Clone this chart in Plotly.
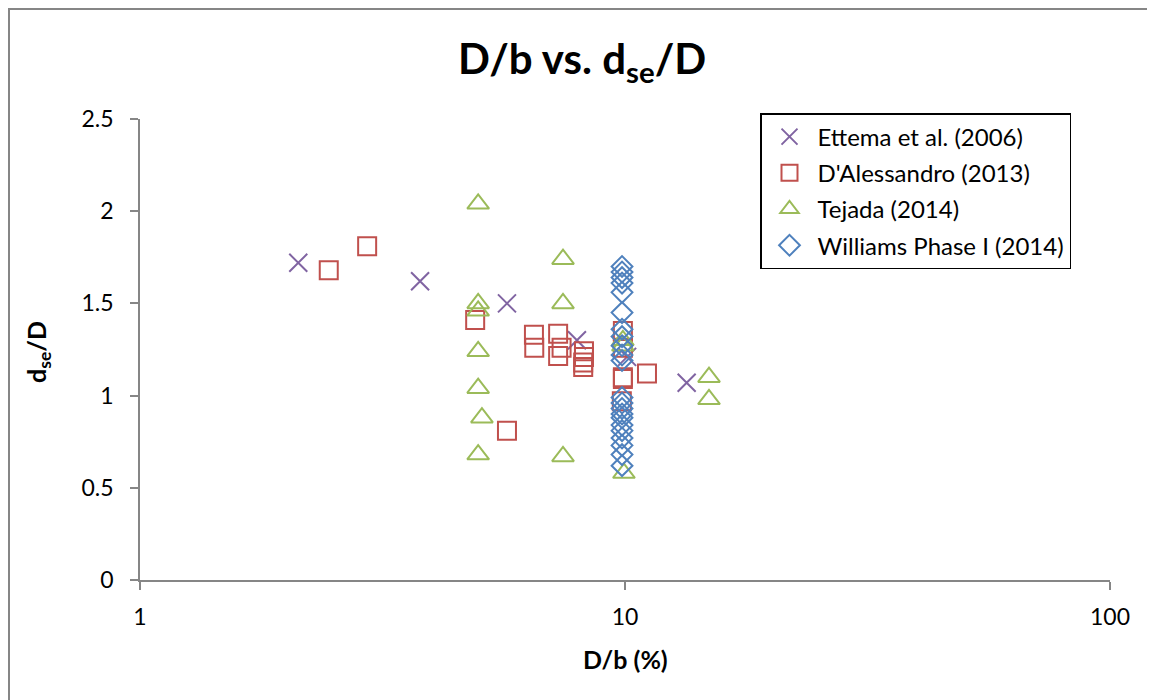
import plotly.graph_objects as go

# ---- data ----
ettema_x = [2.12, 3.78, 5.71, 7.96, 10.1, 13.4]
ettema_y = [1.72, 1.62, 1.50, 1.30, 1.21, 1.07]

dalessandro_x = [2.45, 2.94, 4.91, 5.71, 6.49, 6.5, 7.28, 7.4, 7.28, 8.23, 8.23, 8.2, 8.2,
                 9.9, 9.9, 9.9, 9.9, 9.85, 11.1]
dalessandro_y = [1.68, 1.81, 1.41, 0.81, 1.33, 1.26, 1.335, 1.26, 1.215, 1.24, 1.21, 1.18, 1.155,
                 1.35, 1.26, 1.10, 1.09, 0.97, 1.12]

tejada_x = [4.98, 4.98, 4.98, 4.98, 4.98, 5.07, 4.98, 7.45, 7.45, 7.45, 9.9, 9.9, 9.95, 14.9, 14.9]
tejada_y = [2.04, 1.50, 1.46, 1.24, 1.04, 0.88, 0.68, 1.74, 1.50, 0.67, 1.30, 1.27, 0.58, 1.10, 0.98]

williams_y = [1.70, 1.67, 1.64, 1.61, 1.56, 1.45, 1.36, 1.32, 1.27, 1.22, 1.19,
              0.99, 0.96, 0.93, 0.90, 0.88, 0.84, 0.81, 0.77, 0.73, 0.68, 0.62]
williams_x = [9.86] * len(williams_y)

y_ticks = [0, 0.5, 1, 1.5, 2, 2.5]
y_tick_labels = ["0", "0.5", "1", "1.5", "2", "2.5"]
x_ticks = [1, 10, 100]
x_tick_labels = ["1", "10", "100"]

FONT = "Lato, 'Open Sans', sans-serif"
PURPLE = "#8064A2"
RED = "#C0504D"
GREEN = "#9BBB59"
BLUE = "#4F81BD"

fig = go.Figure()
fig.add_trace(go.Scatter(x=ettema_x, y=ettema_y, mode="markers", name="Ettema et al. (2006)",
                         legendgroup="a",
                         marker=dict(symbol="x-thin", size=18, line=dict(color=PURPLE, width=2), color=PURPLE)))
fig.add_trace(go.Scatter(x=dalessandro_x, y=dalessandro_y, mode="markers", name="D'Alessandro (2013)",
                         legendgroup="b",
                         marker=dict(symbol="square-open", size=18, color=RED, line=dict(width=2))))
fig.add_trace(go.Scatter(x=tejada_x, y=tejada_y, mode="markers", name="Tejada (2014)",
                         legendgroup="c",
                         marker=dict(symbol="triangle-up-open", size=19, color=GREEN, line=dict(width=2))))
fig.add_trace(go.Scatter(x=williams_x, y=williams_y, mode="markers", name="Williams Phase I (2014)",
                         legendgroup="d",
                         marker=dict(symbol="diamond-open", size=16, color=BLUE, line=dict(width=2))))

# page has an 8px body offset; figure coordinates = page coordinates - 8
OFF = 8
W, H = 1147, 692
L, R, T, B = 140 - OFF, 45, 119 - OFF, 120
pw, ph = W - L - R, H - T - B

def px_x(p):
    return (p - OFF - L) / pw

def px_y(p):
    return (H - B - (p - OFF)) / ph

fig.update_layout(
    width=W, height=H,
    margin=dict(l=L, r=R, t=T, b=B, pad=0),
    paper_bgcolor="white", plot_bgcolor="white",
    font=dict(family=FONT, size=22, color="black"),
    showlegend=True,
    legend=dict(x=px_x(760), y=px_y(113), xanchor="left", yanchor="top",
                bgcolor="white", bordercolor="black", borderwidth=1.5,
                font=dict(family=FONT, size=24, color="black"),
                tracegroupgap=2, itemwidth=46),
    xaxis=dict(type="log", range=[0, 2], tickvals=x_ticks, ticktext=x_tick_labels,
               showgrid=False, zeroline=False, showline=True, linecolor="#868686", linewidth=1.5,
               ticks="outside", ticklen=8, tickcolor="#868686", tickwidth=1.5,
               ticklabelstandoff=8,
               tickfont=dict(family=FONT, size=23), fixedrange=True),
    yaxis=dict(range=[0, 2.5], tickvals=y_ticks, ticktext=y_tick_labels,
               showgrid=False, zeroline=False, showline=True, linecolor="#868686", linewidth=1.5,
               ticks="outside", ticklen=8, tickcolor="#868686", tickwidth=1.5,
               ticklabelstandoff=12,
               tickfont=dict(family=FONT, size=23), fixedrange=True),
    annotations=[
        dict(text="<b>D/b vs. d<sub>se</sub>/D</b>", xref="paper", yref="paper",
             x=px_x(582), y=px_y(61), xanchor="center", yanchor="middle", showarrow=False,
             font=dict(family=FONT, size=42, color="black")),
        dict(text="<b>D/b (%)</b>", xref="paper", yref="paper",
             x=px_x(625), y=px_y(659), xanchor="center", yanchor="middle", showarrow=False,
             font=dict(family=FONT, size=25, color="black")),
        dict(text="<b>d<sub>se</sub>/D</b>", xref="paper", yref="paper",
             x=px_x(38), y=px_y(352), xanchor="center", yanchor="middle", showarrow=False,
             textangle=-90, font=dict(family=FONT, size=25, color="black")),
    ],
    shapes=[
        dict(type="rect", xref="paper", yref="paper",
             x0=px_x(9), y0=px_y(720), x1=px_x(1170), y1=px_y(9),
             line=dict(color="#868686", width=2), fillcolor="rgba(0,0,0,0)", layer="below"),
    ],
)

fig.write_html("out.html")
